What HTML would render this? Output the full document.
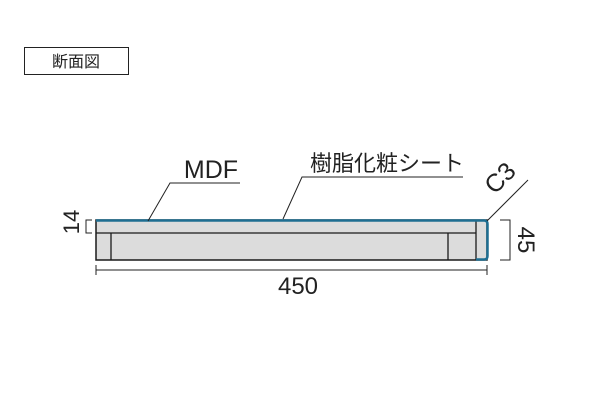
<!DOCTYPE html>
<html><head><meta charset="utf-8"><style>
html,body{margin:0;padding:0;background:#fff;}
</style></head><body>
<svg width="600" height="400" xmlns="http://www.w3.org/2000/svg" style="display:block">
<rect width="600" height="400" fill="#fff"/>
<rect x="24.5" y="47.5" width="104" height="27" fill="none" stroke="#222" stroke-width="1"/>
<text x="76" y="67" font-family="Liberation Sans, Noto Sans CJK JP, sans-serif" font-size="16" text-anchor="middle" fill="#222">断面図</text>
<!-- board -->
<rect x="96" y="220" width="391" height="40" fill="#dcdcdc" stroke="#1a1a1a" stroke-width="1.5"/>
<line x1="96" y1="233" x2="476" y2="233" stroke="#1a1a1a" stroke-width="1.3"/>
<line x1="111" y1="233" x2="111" y2="260" stroke="#1a1a1a" stroke-width="1.3"/>
<line x1="448" y1="233" x2="448" y2="260" stroke="#1a1a1a" stroke-width="1.3"/>
<line x1="476" y1="221" x2="476" y2="260" stroke="#1a1a1a" stroke-width="1.3"/>
<path d="M96 220.5 H484 Q487.5 220.5 487.5 224 V256 Q487.5 259.5 484 259.5 H476" fill="none" stroke="#1e6e92" stroke-width="2.5"/>
<!-- dim 14 -->
<path d="M92 220 H86 V233 H92" fill="none" stroke="#222" stroke-width="1"/>
<text transform="translate(79,222) rotate(-90)" font-family="Liberation Sans, sans-serif" font-size="22" text-anchor="middle" fill="#222">14</text>
<!-- dim 450 -->
<line x1="96" y1="270" x2="487" y2="270" stroke="#222" stroke-width="1"/>
<line x1="96" y1="265" x2="96" y2="275" stroke="#222" stroke-width="1"/>
<line x1="487" y1="265" x2="487" y2="275" stroke="#222" stroke-width="1"/>
<text x="298" y="294" font-family="Liberation Sans, sans-serif" font-size="24" text-anchor="middle" fill="#222">450</text>
<!-- dim 45 -->
<path d="M500 220 H510 V260 H500" fill="none" stroke="#222" stroke-width="1"/>
<text transform="translate(517,240) rotate(90)" font-family="Liberation Sans, sans-serif" font-size="24" text-anchor="middle" fill="#222" dy="-1">45</text>
<!-- C3 -->
<line x1="487" y1="221" x2="528" y2="180" stroke="#222" stroke-width="1"/>
<text transform="translate(506,184) rotate(-45)" font-family="Liberation Sans, sans-serif" font-size="25" text-anchor="middle" fill="#222">C3</text>
<!-- MDF -->
<text x="211" y="178" font-family="Liberation Sans, sans-serif" font-size="25" text-anchor="middle" fill="#222">MDF</text>
<polyline points="240,183 170,183 148,221" fill="none" stroke="#222" stroke-width="1"/>
<!-- sheet -->
<text x="387" y="171" font-family="Liberation Sans, Noto Sans CJK JP, sans-serif" font-size="22" text-anchor="middle" fill="#222">樹脂化粧シート</text>
<polyline points="463,177 302,177 283,219" fill="none" stroke="#222" stroke-width="1"/>
</svg>
</body></html>
